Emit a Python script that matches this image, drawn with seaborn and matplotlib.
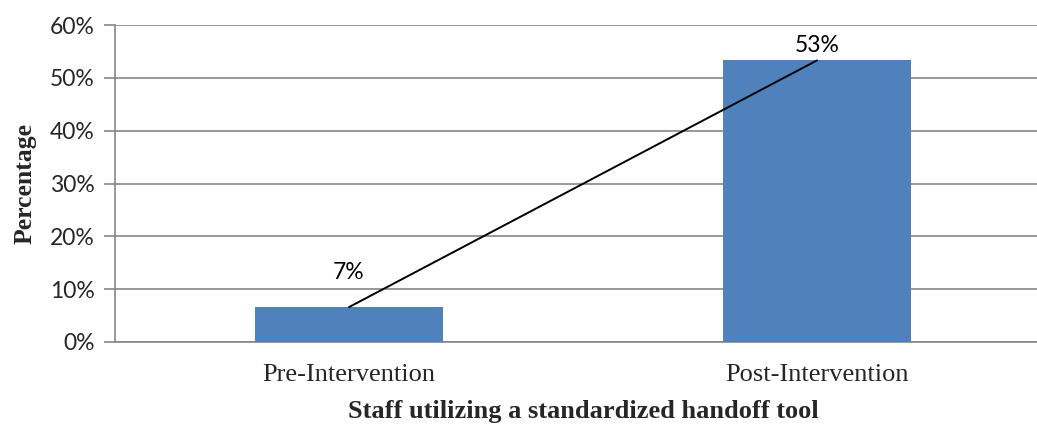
import matplotlib
matplotlib.use("Agg")
import matplotlib.pyplot as plt
import seaborn as sns
import pandas as pd
from matplotlib.ticker import FuncFormatter

categories = ["Pre-Intervention", "Post-Intervention"]
values = [6.6, 53.3]
labels = ["7%", "53%"]
yticks = [0, 10, 20, 30, 40, 50, 60]

sns.set_theme(style="white")
plt.rcParams['font.family'] = ['Lato', 'DejaVu Sans']

df = pd.DataFrame({"cat": categories, "val": values})

fig = plt.figure(figsize=(10.37, 4.25), dpi=100)
ax = fig.add_axes([115/1037, 83/425, 936/1037, 317/425])

sns.barplot(data=df, x="cat", y="val", color="#4F81BD", width=0.4, ax=ax,
            saturation=1, edgecolor="none", zorder=3)

# trend line from bar top centers
ax.plot([0, 1], values, color="black", lw=1.4, zorder=4)

label_offsets = [6.6, 2.9]
for i, (v, t) in enumerate(zip(values, labels)):
    ax.text(i, v + label_offsets[i], t, ha="center", va="center", fontsize=16.5,
            color="black", zorder=5)

ax.set_ylim(0, 60)
ax.set_xlim(-0.5, 1.5)
ax.set_yticks(yticks)
ax.yaxis.set_major_formatter(FuncFormatter(lambda v, p: f"{int(v)}%"))
ax.tick_params(axis="y", direction="out", length=8, width=1.2, color="#868686",
               labelsize=16.5, pad=6.5, left=True)
ax.tick_params(axis="x", length=0, pad=16)
for lab in ax.get_xticklabels():
    lab.set_fontfamily("Liberation Serif")
    lab.set_fontsize(19)
ax.yaxis.grid(True, color="#868686", lw=1.2, zorder=0)
ax.set_axisbelow(True)

for s in ["top", "right"]:
    ax.spines[s].set_visible(False)
for s in ["left", "bottom"]:
    ax.spines[s].set_color("#868686")
    ax.spines[s].set_linewidth(1.2)

ax.set_xlabel("Staff utilizing a standardized handoff tool", fontfamily="Liberation Serif",
              fontweight="bold", fontsize=19, labelpad=10)
ax.set_ylabel("Percentage", fontfamily="Liberation Serif", fontweight="bold",
              fontsize=18.5, labelpad=10)

fig.savefig("out.png", dpi=100)
